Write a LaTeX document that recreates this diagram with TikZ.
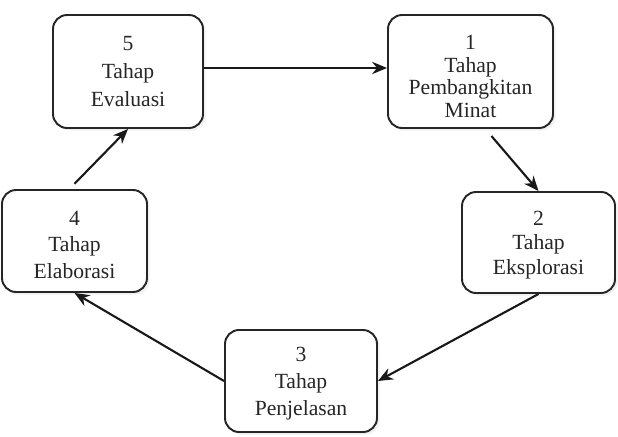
\documentclass[tikz,border=0pt]{standalone}
\usepackage{fontspec}
\setmainfont{Liberation Serif}
\usepackage{tikz}
\usetikzlibrary{arrows.meta, positioning, shadows}

\begin{document}
\begin{tikzpicture}[x=0.02cm, y=-0.02cm,
    tahap/.style={draw=black!85, line width=1.1pt, rounded corners=8pt, fill=white, inner sep=0pt,
        drop shadow={opacity=0.12, shadow xshift=1.5pt, shadow yshift=-1.5pt}},
    teks/.style={align=center, inner sep=0pt, text=black!85},
    panah/.style={-{Stealth[length=8.5pt, width=7pt]}, line width=1.2pt, black!90}]
    % page frame
    \useasboundingbox (0,0) rectangle (618,436);
    % the five stages
    \node[tahap, minimum width=150*0.02cm, minimum height=113*0.02cm,
        label={[teks, font=\fontsize{12.3}{15.9}\selectfont]center:5\\Tahap\\Evaluasi}]
        (n5) at (128,71.5) {};
    \node[tahap, minimum width=165*0.02cm, minimum height=113*0.02cm,
        label={[teks, yshift=-2.8pt, font=\fontsize{12.3}{13}\selectfont]center:1\\Tahap\\Pembangkitan\\Minat}]
        (n1) at (470.5,71.5) {};
    \node[tahap, minimum width=153*0.02cm, minimum height=101*0.02cm,
        label={[teks, yshift=-1.5pt, font=\fontsize{12.3}{13.9}\selectfont]center:2\\Tahap\\Eksplorasi}]
        (n2) at (538.5,242.5) {};
    \node[tahap, minimum width=152*0.02cm, minimum height=102*0.02cm,
        label={[teks, yshift=-1.7pt, font=\fontsize{12.3}{15.3}\selectfont]center:3\\Tahap\\Penjelasan}]
        (n3) at (301,381) {};
    \node[tahap, minimum width=145*0.02cm, minimum height=102*0.02cm,
        label={[teks, yshift=-2.2pt, font=\fontsize{12.3}{15}\selectfont]center:4\\Tahap\\Elaborasi}]
        (n4) at (74.5,241) {};
    % cycle arrows
    \draw[panah] ([yshift=2pt]n5.east) -- ([yshift=2pt]n1.west);
    \draw[panah] ([yshift=-4pt]n1.290) -- (n2.north);
    \draw[panah] (n2.south) -- (n3.east);
    \draw[panah] (n3.west) -- (n4.south);
    \draw[panah] ([yshift=3pt]n4.north) -- (n5.south);
\end{tikzpicture}
\end{document}
